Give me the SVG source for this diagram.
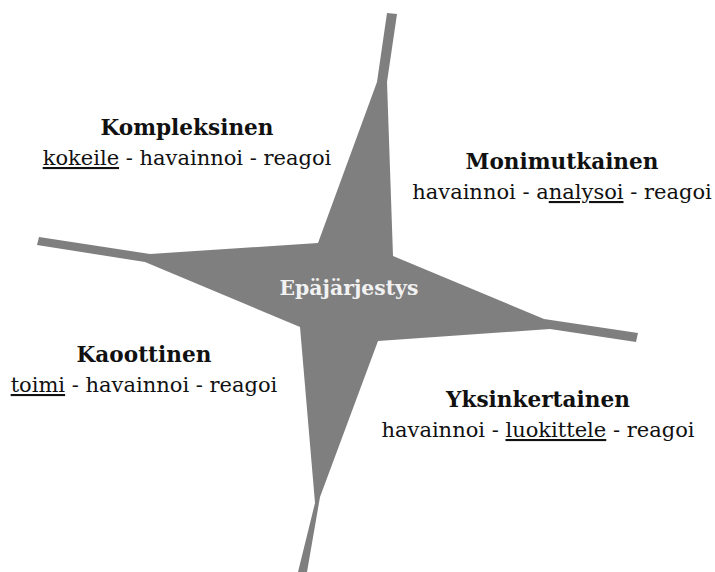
<svg xmlns="http://www.w3.org/2000/svg" width="715" height="572" viewBox="0 0 715 572">
<style>
.t{font-family:"DejaVu Serif","Liberation Serif",serif;font-size:21px;fill:#111;text-anchor:middle}
.b{font-weight:bold;font-size:21.6px}
.u{text-decoration:underline}
.c{font-family:"DejaVu Serif","Liberation Serif",serif;font-size:20.4px;font-weight:bold;fill:#f2f2f2;text-anchor:middle}
</style>
<rect width="715" height="572" fill="#fff"/>
<g id="star">
<polygon fill="#7f7f7f" points="387,13 397,14 387,82 393,256 544,319 638,333 636,342 550,329 378,341 320,497 307,572 298,572 315,503 300,327 145,262 37,245 39,237 150,254 318,243 377,82"/>
<text class="c" x="349" y="295">Epäjärjestys</text>
</g>
<g id="kompleksinen">
<text class="t b" x="187" y="135">Kompleksinen</text>
<text class="t" x="187" y="165"><tspan class="u">kokeile</tspan> - havainnoi - reagoi</text>
</g>
<g id="monimutkainen">
<text class="t b" x="562" y="169">Monimutkainen</text>
<text class="t" x="562" y="199">havainnoi - a<tspan class="u">nalysoi</tspan> - reagoi</text>
</g>
<g id="kaoottinen">
<text class="t b" x="144" y="362">Kaoottinen</text>
<text class="t" x="144" y="392"><tspan class="u">toimi</tspan> - havainnoi - reagoi</text>
</g>
<g id="yksinkertainen">
<text class="t b" x="538" y="407">Yksinkertainen</text>
<text class="t" x="538" y="437">havainnoi - <tspan class="u">luokittele</tspan> - reagoi</text>
</g>
<g id="connectors"></g>
</svg>
